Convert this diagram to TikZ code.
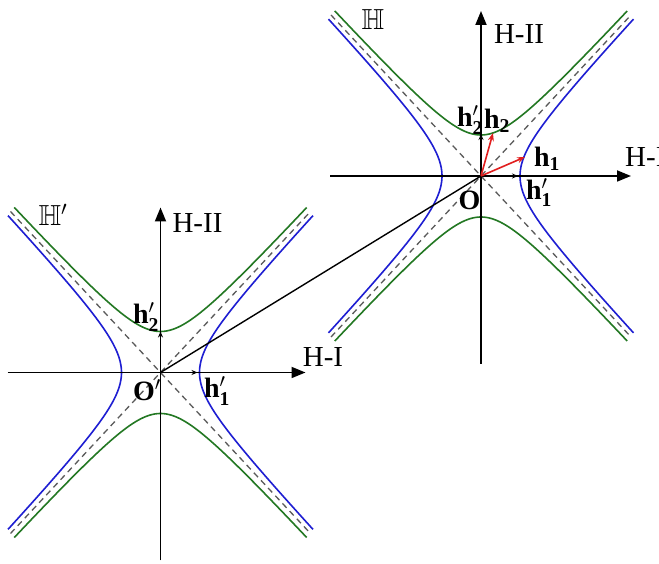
\RequirePackage{fix-cm}
\documentclass[tikz,border=0pt]{standalone}
\usepackage{amsmath}
\usepackage{amssymb}
\usepackage{fontspec}
\setmainfont{Liberation Serif}
\usetikzlibrary{arrows.meta}
\definecolor{hblue}{RGB}{30,30,210}
\definecolor{hgreen}{RGB}{35,120,35}
\definecolor{hred}{RGB}{225,30,30}
\definecolor{hgray}{RGB}{90,90,90}
\newcommand{\hypcurves}{%
  \draw[bluec] plot[domain=-2.04:2.04,samples=70] ({39*cosh(\x)},{41.5*sinh(\x)});
  \draw[bluec] plot[domain=-2.04:2.04,samples=70] ({-39*cosh(\x)},{41.5*sinh(\x)});
  \draw[greenc] plot[domain=-2.07:2.07,samples=70] ({37.5*sinh(\x)},{41*cosh(\x)});
  \draw[greenc] plot[domain=-2.07:2.07,samples=70] ({37.5*sinh(\x)},{-41*cosh(\x)});
  \draw[asym] (-150,161) -- (150,-161);
  \draw[asym] (-150,-161) -- (150,161);
}
\newcommand{\hv}[2]{\textbf{h}\ensuremath{#1_{\textbf{#2}}}}
\begin{document}
\begin{tikzpicture}[x=1pt,y=1pt,
  bluec/.style={draw=hblue,line width=1.6pt},
  greenc/.style={draw=hgreen,line width=1.6pt},
  asym/.style={draw=hgray,line width=1.3pt,dash pattern=on 6pt off 4.5pt},
  axis/.style={line width=1.8pt,-{Triangle[length=14pt,width=11pt]}},
  vecb/.style={line width=1.1pt,-{Stealth[length=6pt,width=5pt]}},
  vecr/.style={draw=hred,line width=1.6pt,-{Stealth[length=8pt,width=6pt]}},
  conn/.style={line width=1.4pt},
  lab/.style={inner sep=0pt,font=\fontsize{29}{32}\selectfont},
  vlab/.style={inner sep=0pt,font=\fontsize{28}{30}\selectfont}]
\useasboundingbox (0,0) rectangle (659,564);
\fill[white] (0,0) rectangle (659,564);

% ---------- left diagram (H') ----------
\begin{scope}[shift={(160.5,191.5)}]
  \hypcurves
  \coordinate (Lxl) at (-153,0);
  \coordinate (Lxr) at (145,0);
  \coordinate (Lyb) at (0,-188);
  \coordinate (Lyt) at (0,165);
  \coordinate (Lo) at (0,0);
  \coordinate (Lh1) at (37,0);
  \coordinate (Lh2) at (0,41);
  \draw[axis] (Lxl) -- (Lxr);
  \draw[axis] (Lyb) -- (Lyt);
  \draw[vecb] (Lo) -- (Lh1);
  \draw[vecb] (Lo) -- (Lh2);
\end{scope}

% ---------- right diagram (H) ----------
\begin{scope}[shift={(481,388)}]
  \hypcurves
  \coordinate (Rxl) at (-151,0);
  \coordinate (Rxr) at (150,0);
  \coordinate (Ryb) at (0,-188);
  \coordinate (Ryt) at (0,165);
  \coordinate (Ro) at (0,0);
  \coordinate (Rh1p) at (37,0);
  \coordinate (Rh2p) at (0,42);
  \coordinate (Rh1) at (44,19);
  \coordinate (Rh2) at (12,43);
  \draw[axis] (Rxl) -- (Rxr);
  \draw[axis] (Ryb) -- (Ryt);
  \draw[vecb] (Ro) -- (Rh1p);
  \draw[vecb] (Ro) -- (Rh2p);
  \draw[vecr] (Ro) -- (Rh1);
  \draw[vecr] (Ro) -- (Rh2);
\end{scope}

% connector between the two origins
\draw[conn] (Lo) -- (Ro);

% ---------- labels ----------
\node[lab] (Rbb) at (373,544) {$\mathbb{H}$};
\node[lab] (RII) at (519,530) {H-II};
\node[lab,anchor=west] (RI) at (625,407) {H-I};
\node[vlab] (Rl2p) at (470,444) {\hv{'}{2}};
\node[vlab] (Rl2) at (497,443) {\hv{}{2}};
\node[vlab] (Rl1) at (547,405) {\hv{}{1}};
\node[vlab] (Rl1p) at (539,371.5) {\hv{'}{1}};
\node[vlab] (RO) at (469.5,364) {\textbf{O}};

\node[lab] (Lbb) at (53,349) {$\mathbb{H}'$};
\node[lab] (LII) at (197.5,341) {H-II};
\node[lab] (LI) at (323,206.5) {H-I};
\node[vlab] (Ll2p) at (146,247) {\hv{'}{2}};
\node[vlab] (Ll1p) at (217,173) {\hv{'}{1}};
\node[vlab] (LO) at (147,173.5) {\textbf{O}$'$};
\end{tikzpicture}
\end{document}
